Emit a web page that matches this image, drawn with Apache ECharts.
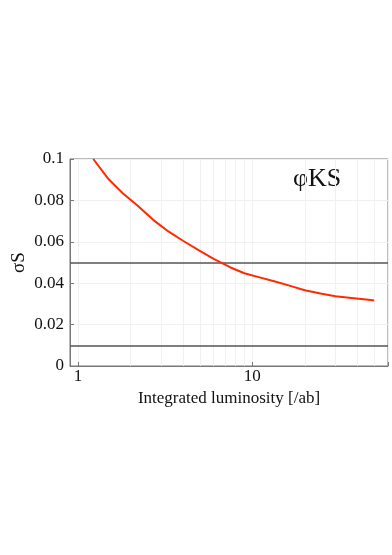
<!DOCTYPE html>
<html>
<head>
<meta charset="utf-8">
<script src="https://cdn.jsdelivr.net/npm/echarts@6/dist/echarts.min.js"></script>
<style>
  html, body { margin: 0; padding: 0; background: #fff; }
  #chart { width: 392px; height: 555px; }
</style>
</head>
<body>
<div id="chart"></div>
<script>
  // luminosity [/ab] and sigma(S)
  var lumi = [1.224, 1.5, 1.8, 2.2, 2.7, 3.3, 4, 5, 6, 7.5, 9, 11, 13.5, 16.5, 20, 25, 30, 37, 45, 50];
  var sigmaS = [0.1, 0.0902, 0.0836, 0.0774, 0.0706, 0.0650, 0.0605, 0.0556, 0.0518, 0.0476,
                0.0448, 0.0428, 0.0408, 0.0387, 0.0366, 0.0349, 0.0337, 0.0328, 0.0321, 0.0317];
  var refLines = [0.05, 0.01];
  var xTickLabels = [1, 10];
  var xMinorGrid = [2, 3, 4, 5, 6, 7, 8, 9, 20, 30, 40, 50];
  var yTicks = ['0', '0.02', '0.04', '0.06', '0.08', '0.1'];

  var serif = '"Liberation Serif", "DejaVu Serif", serif';
  var chart = echarts.init(document.getElementById('chart'));

  var option = {
    backgroundColor: '#fff',
    animation: false,
    grid: {
      left: 70, right: 4, top: 159, bottom: 189,
      outerBoundsMode: 'none',
      containLabel: false,
      show: true, borderColor: '#777', borderWidth: 1
    },
    graphic: [{
      type: 'text',
      left: 293, top: 166,
      style: { text: 'φKS', font: '26px ' + serif, fill: '#111' }
    }],
    xAxis: {
      type: 'log',
      logBase: 10,
      min: 0.9,
      max: 60,
      name: 'Integrated luminosity [/ab]',
      nameLocation: 'middle',
      nameGap: 24,
      nameTextStyle: { fontFamily: serif, fontSize: 17, color: '#111' },
      axisLine: { show: true, lineStyle: { color: '#777' } },
      axisTick: { inside: true, length: 4, lineStyle: { color: '#777' } },
      axisLabel: {
        fontFamily: serif, fontSize: 17, color: '#111', margin: 2,
        formatter: function (v) {
          for (var i = 0; i < xTickLabels.length; i++) {
            if (Math.abs(v - xTickLabels[i]) < 1e-6) return String(xTickLabels[i]);
          }
          return '';
        }
      },
      splitLine: { show: true, lineStyle: { color: '#f0f0f0' } }
    },
    yAxis: {
      type: 'value',
      min: 0,
      max: 0.1,
      interval: 0.02,
      name: 'σS',
      nameLocation: 'middle',
      nameGap: 41,
      nameRotate: 90,
      nameMoveOverlap: false,
      nameTextStyle: { fontFamily: serif, fontSize: 19, color: '#111' },
      axisLine: { show: true, lineStyle: { color: '#777' } },
      axisTick: { inside: true, length: 4, lineStyle: { color: '#777' } },
      axisLabel: {
        fontFamily: serif, fontSize: 17, color: '#111', margin: 6,
        formatter: function (v) { return yTicks[Math.round(v / 0.02)]; }
      },
      splitLine: { show: true, lineStyle: { color: '#f0f0f0' } }
    },
    series: [
      {
        // light minor grid lines for the log axis
        type: 'line',
        data: [],
        silent: true,
        z: 1,
        markLine: {
          symbol: 'none',
          silent: true,
          z: 1,
          label: { show: false },
          lineStyle: { color: '#f0f0f0', type: 'solid', width: 1 },
          data: xMinorGrid.map(function (v) { return { xAxis: v }; })
        }
      },
      {
        type: 'line',
        data: [],
        silent: true,
        z: 2,
        markLine: {
          symbol: 'none',
          silent: true,
          z: 2,
          label: { show: false },
          lineStyle: { color: '#555', type: 'solid', width: 1.5 },
          data: refLines.map(function (v) { return { yAxis: v }; })
        }
      },
      {
        name: 'phiKS',
        type: 'line',
        z: 10,
        smooth: false,
        showSymbol: false,
        lineStyle: { color: '#ff2a00', width: 2, join: 'round' },
        data: lumi.map(function (l, i) { return [l, sigmaS[i]]; })
      }
    ]
  };
  chart.setOption(option);
</script>
</body>
</html>
